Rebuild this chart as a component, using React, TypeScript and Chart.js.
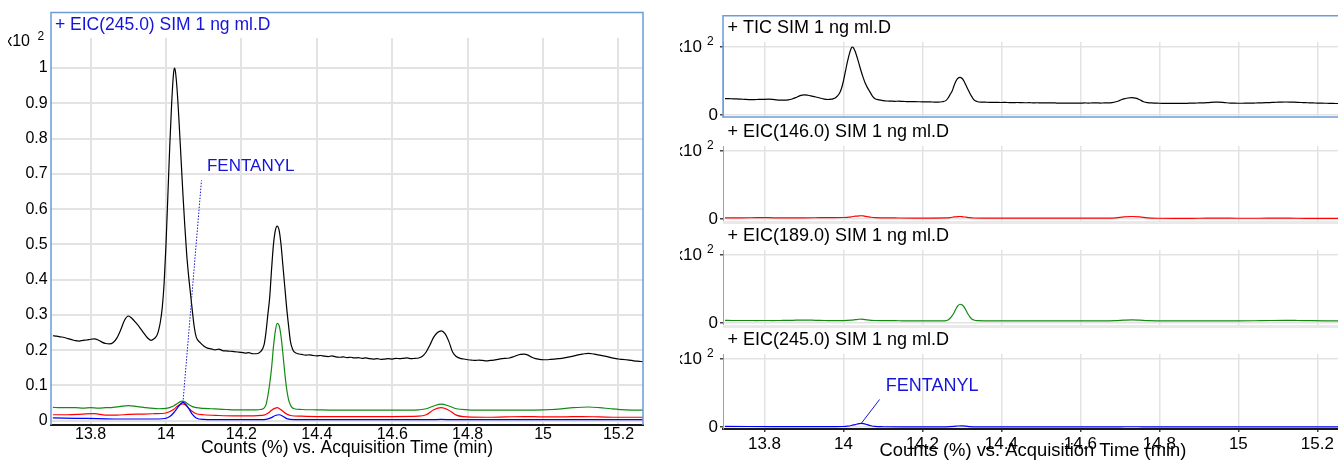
import React, { useEffect, useRef } from "react";
import { Chart, registerables } from "chart.js";

Chart.register(...registerables);

const FONT = '"Liberation Sans", Arial, Helvetica, sans-serif';
const FRAME_BLUE = "#6e9bd8";
const GRID = "#e3e3e3";
const INK = "#000000";
const TIC_COLOR = "#000000";
const EIC146_COLOR = "#ff0000";
const EIC189_COLOR = "#138a13";
const EIC245_COLOR = "#0000ff";
const LABEL_BLUE = "#1414dc";

// Acquisition time window (min)
const TIME_MIN = 13.695;
const TIME_MAX = 15.265;
const TIME_TICKS = [13.8, 14.0, 14.2, 14.4, 14.6, 14.8, 15.0, 15.2];
const OVERLAY_Y_TICKS = [0, 0.1, 0.2, 0.3, 0.4, 0.5, 0.6, 0.7, 0.8, 0.9, 1.0];
const PANEL_Y_TICKS = [0, 1];

const OVERLAY_TITLE = "+ EIC(245.0) SIM 1 ng ml.D";
const PANEL_TITLES = [
  "+ TIC SIM 1 ng ml.D",
  "+ EIC(146.0) SIM 1 ng ml.D",
  "+ EIC(189.0) SIM 1 ng ml.D",
  "+ EIC(245.0) SIM 1 ng ml.D",
];
const AXIS_TITLE = "Counts (%) vs. Acquisition Time (min)";
const EXP_BASE = "x10";
const EXP_POWER = "2";
const PEAK_LABEL = "FENTANYL";
const PEAK_TIME = 14.045;

// TIC, counts in units of 10^2 %
const ticTime = [
  13.70, 13.71, 13.72, 13.73, 13.74, 13.75, 13.76, 13.77, 13.78, 13.79,
  13.80, 13.81, 13.82, 13.83, 13.84, 13.85, 13.86, 13.87, 13.88, 13.89,
  13.90, 13.91, 13.92, 13.93, 13.94, 13.95, 13.96, 13.97, 13.975, 13.98,
  13.985, 13.99, 13.995, 14.00, 14.005, 14.01, 14.015, 14.02, 14.0225, 14.025,
  14.03, 14.035, 14.04, 14.045, 14.05, 14.055, 14.06, 14.065, 14.07, 14.075,
  14.08, 14.09, 14.10, 14.11, 14.12, 14.13, 14.14, 14.15, 14.16, 14.17,
  14.18, 14.19, 14.20, 14.21, 14.22, 14.23, 14.24, 14.25, 14.26, 14.265,
  14.27, 14.275, 14.28, 14.285, 14.29, 14.295, 14.30, 14.305, 14.31, 14.315,
  14.32, 14.325, 14.33, 14.335, 14.34, 14.35, 14.36, 14.37, 14.38, 14.39,
  14.40, 14.41, 14.42, 14.43, 14.44, 14.45, 14.46, 14.47, 14.48, 14.49,
  14.50, 14.51, 14.52, 14.53, 14.54, 14.55, 14.56, 14.57, 14.58, 14.59,
  14.60, 14.61, 14.62, 14.63, 14.64, 14.65, 14.66, 14.67, 14.68, 14.69,
  14.70, 14.71, 14.72, 14.73, 14.74, 14.75, 14.76, 14.77, 14.78, 14.79,
  14.80, 14.81, 14.82, 14.83, 14.84, 14.85, 14.86, 14.87, 14.88, 14.89,
  14.90, 14.91, 14.92, 14.93, 14.94, 14.95, 14.96, 14.97, 14.98, 14.99,
  15.00, 15.01, 15.02, 15.03, 15.04, 15.05, 15.06, 15.07, 15.08, 15.09,
  15.10, 15.11, 15.12, 15.13, 15.14, 15.15, 15.16, 15.17, 15.18, 15.19,
  15.20, 15.21, 15.22, 15.23, 15.24, 15.25, 15.26, 15.27,
];
const ticCounts = [
  0.241, 0.240, 0.238, 0.236, 0.233, 0.230, 0.227, 0.226, 0.228, 0.229,
  0.231, 0.232, 0.229, 0.223, 0.219, 0.218, 0.222, 0.235, 0.258, 0.285,
  0.297, 0.290, 0.278, 0.265, 0.250, 0.236, 0.228, 0.234, 0.240, 0.255,
  0.280, 0.320, 0.390, 0.500, 0.640, 0.780, 0.900, 0.985, 1.000, 0.990,
  0.930, 0.840, 0.740, 0.640, 0.550, 0.470, 0.410, 0.360, 0.310, 0.265,
  0.238, 0.222, 0.212, 0.206, 0.204, 0.201, 0.203, 0.199, 0.198, 0.197,
  0.196, 0.195, 0.194, 0.192, 0.193, 0.190, 0.190, 0.195, 0.215, 0.250,
  0.300, 0.350, 0.430, 0.500, 0.540, 0.552, 0.540, 0.500, 0.440, 0.380,
  0.320, 0.270, 0.225, 0.205, 0.195, 0.190, 0.188, 0.186, 0.187, 0.185,
  0.184, 0.185, 0.183, 0.182, 0.184, 0.181, 0.180, 0.181, 0.179, 0.180,
  0.178, 0.179, 0.177, 0.178, 0.176, 0.175, 0.176, 0.174, 0.175, 0.176,
  0.175, 0.177, 0.176, 0.177, 0.178, 0.176, 0.177, 0.178, 0.183, 0.195,
  0.215, 0.237, 0.250, 0.255, 0.247, 0.225, 0.195, 0.182, 0.177, 0.175,
  0.173, 0.172, 0.171, 0.172, 0.171, 0.170, 0.171, 0.172, 0.174, 0.176,
  0.177, 0.178, 0.181, 0.185, 0.188, 0.189, 0.186, 0.180, 0.176, 0.174,
  0.173, 0.173, 0.174, 0.175, 0.176, 0.177, 0.179, 0.181, 0.183, 0.186,
  0.188, 0.190, 0.191, 0.190, 0.188, 0.186, 0.184, 0.182, 0.179, 0.177,
  0.175, 0.174, 0.173, 0.172, 0.170, 0.169, 0.168, 0.167,
];

// EIC m/z 146
const eic146Time = [
  13.70, 13.74, 13.78, 13.81, 13.84, 13.87, 13.90, 13.94, 13.97, 14.00,
  14.02, 14.03, 14.04, 14.045, 14.05, 14.06, 14.07, 14.08, 14.10, 14.14,
  14.18, 14.22, 14.26, 14.27, 14.28, 14.29, 14.295, 14.30, 14.31, 14.32,
  14.33, 14.36, 14.40, 14.50, 14.60, 14.67, 14.69, 14.71, 14.73, 14.75,
  14.77, 14.80, 14.85, 14.90, 14.95, 15.00, 15.05, 15.10, 15.15, 15.20,
  15.27,
];
const eic146Counts = [
  0.017, 0.017, 0.019, 0.020, 0.016, 0.016, 0.018, 0.019, 0.020, 0.022,
  0.032, 0.041, 0.047, 0.048, 0.046, 0.036, 0.026, 0.020, 0.017, 0.015,
  0.014, 0.014, 0.016, 0.021, 0.030, 0.036, 0.037, 0.035, 0.027, 0.019,
  0.015, 0.013, 0.012, 0.012, 0.012, 0.013, 0.017, 0.031, 0.037, 0.030,
  0.016, 0.011, 0.010, 0.011, 0.012, 0.011, 0.011, 0.012, 0.011, 0.010,
  0.010,
];

// EIC m/z 189
const eic189Time = [
  13.70, 13.72, 13.74, 13.76, 13.78, 13.80, 13.82, 13.84, 13.86, 13.88,
  13.90, 13.92, 13.94, 13.96, 13.98, 14.00, 14.02, 14.03, 14.04, 14.045,
  14.05, 14.06, 14.07, 14.08, 14.10, 14.12, 14.14, 14.16, 14.18, 14.20,
  14.22, 14.24, 14.25, 14.26, 14.265, 14.27, 14.275, 14.28, 14.285, 14.29,
  14.295, 14.30, 14.305, 14.31, 14.315, 14.32, 14.325, 14.33, 14.335, 14.34,
  14.36, 14.40, 14.45, 14.50, 14.55, 14.60, 14.65, 14.67, 14.69, 14.71,
  14.73, 14.75, 14.77, 14.80, 14.85, 14.90, 14.95, 15.00, 15.04, 15.08,
  15.12, 15.15, 15.18, 15.22, 15.27,
];
const eic189Counts = [
  0.038, 0.037, 0.037, 0.037, 0.036, 0.037, 0.036, 0.037, 0.038, 0.041,
  0.043, 0.041, 0.038, 0.036, 0.034, 0.035, 0.042, 0.049, 0.055, 0.056,
  0.054, 0.046, 0.040, 0.037, 0.035, 0.034, 0.033, 0.032, 0.031, 0.031,
  0.031, 0.031, 0.032, 0.036, 0.045, 0.070, 0.105, 0.150, 0.210, 0.255,
  0.276, 0.270, 0.240, 0.190, 0.135, 0.090, 0.060, 0.045, 0.037, 0.034,
  0.032, 0.031, 0.030, 0.030, 0.030, 0.030, 0.030, 0.031, 0.034, 0.042,
  0.047, 0.042, 0.034, 0.031, 0.030, 0.030, 0.030, 0.031, 0.033, 0.037,
  0.039, 0.037, 0.034, 0.031, 0.030,
];

// EIC m/z 245
const eic245Time = [
  13.70, 13.76, 13.82, 13.88, 13.94, 13.98, 14.00, 14.01, 14.02, 14.03,
  14.04, 14.045, 14.05, 14.06, 14.07, 14.08, 14.10, 14.15, 14.20, 14.26,
  14.28, 14.29, 14.30, 14.31, 14.32, 14.34, 14.40, 14.50, 14.60, 14.70,
  14.73, 14.76, 14.90, 15.00, 15.27,
];
const eic245Counts = [
  0.008, 0.007, 0.006, 0.005, 0.005, 0.005, 0.007, 0.012, 0.022, 0.036,
  0.049, 0.052, 0.049, 0.035, 0.018, 0.008, 0.004, 0.003, 0.003, 0.003,
  0.009, 0.015, 0.017, 0.013, 0.006, 0.003, 0.003, 0.003, 0.003, 0.003,
  0.004, 0.003, 0.003, 0.003, 0.003,
];

const toPoints = (t: number[], v: number[]) => t.map((x, i) => ({ x, y: v[i] }));
const fmtTick = (v: any) => String(Number(Number(v).toFixed(1)));
const peakValue = eic245Counts[eic245Time.indexOf(PEAK_TIME)];

const line = (label: string, t: number[], v: number[], color: string) => ({
  label,
  data: toPoints(t, v),
  borderColor: color,
  borderWidth: 1.2,
  pointRadius: 0,
  fill: false,
  cubicInterpolationMode: "monotone",
});

function drawExponent(ctx: any, y: number, baseSize: number, powX: number) {
  ctx.fillStyle = INK;
  ctx.textBaseline = "middle";
  ctx.textAlign = "right";
  ctx.font = `${baseSize}px ${FONT}`;
  ctx.fillText(EXP_BASE, 22, y);
  ctx.textAlign = "left";
  ctx.font = `12px ${FONT}`;
  ctx.fillText(EXP_POWER, powX, y - 5);
}

// Frame, title, exponent and peak label of the overlay plot
const overlayDecor = {
  id: "overlayDecor",
  afterDraw(chart: any) {
    const { ctx, chartArea: a, scales } = chart;
    ctx.save();
    ctx.strokeStyle = FRAME_BLUE;
    ctx.lineWidth = 1.5;
    ctx.beginPath();
    ctx.moveTo(a.left, a.bottom);
    ctx.lineTo(a.left, 12.5);
    ctx.lineTo(a.right, 12.5);
    ctx.lineTo(a.right, a.bottom);
    ctx.stroke();

    ctx.fillStyle = LABEL_BLUE;
    ctx.font = `17.5px ${FONT}`;
    ctx.textBaseline = "middle";
    ctx.textAlign = "left";
    ctx.fillText(OVERLAY_TITLE, a.left + 4, 25);

    drawExponent(ctx, 42, 16, 29.5);

    const px = scales.x.getPixelForValue(PEAK_TIME);
    const py = scales.y.getPixelForValue(peakValue);
    ctx.strokeStyle = LABEL_BLUE;
    ctx.lineWidth = 1;
    ctx.setLineDash([1.5, 1.5]);
    ctx.beginPath();
    ctx.moveTo(px, py);
    ctx.lineTo(px + 18.5, py - 222);
    ctx.stroke();
    ctx.setLineDash([]);
    ctx.fillStyle = LABEL_BLUE;
    ctx.font = `17px ${FONT}`;
    ctx.fillText(PEAK_LABEL, px + 24, py - 236);
    ctx.restore();
  },
};

function overlayConfig(): any {
  return {
    type: "line",
    data: {
      datasets: [
        line("EIC(245.0)", eic245Time, eic245Counts, EIC245_COLOR),
        line("EIC(146.0)", eic146Time, eic146Counts, EIC146_COLOR),
        line("EIC(189.0)", eic189Time, eic189Counts, EIC189_COLOR),
        line("TIC", ticTime, ticCounts, TIC_COLOR),
      ],
    },
    options: {
      animation: false,
      responsive: false,
      devicePixelRatio: 1,
      layout: { padding: { top: 38, right: 17, left: 0, bottom: 0 } },
      plugins: { legend: { display: false }, tooltip: { enabled: false } },
      scales: {
        x: {
          type: "linear",
          min: TIME_MIN,
          max: TIME_MAX,
          border: { display: true, color: "#1a1a1a", width: 2 },
          grid: { color: GRID, lineWidth: 2, drawTicks: false },
          afterBuildTicks: (s: any) => { s.ticks = TIME_TICKS.map((value) => ({ value })); },
          ticks: { autoSkip: false, maxRotation: 0, padding: 0, color: INK, font: { family: FONT, size: 16 }, callback: fmtTick },
          title: { display: true, text: AXIS_TITLE, color: INK, font: { family: FONT, size: 17.5, lineHeight: 1 }, padding: { top: 0, bottom: 3 } },
          afterFit: (s: any) => { s.height = 35; },
        },
        y: {
          type: "linear",
          min: -0.012,
          max: 1.085,
          border: { display: false },
          grid: { color: GRID, lineWidth: 2, drawTicks: false },
          afterBuildTicks: (s: any) => { s.ticks = OVERLAY_Y_TICKS.map((value) => ({ value })); },
          ticks: { padding: 3.3, color: INK, font: { family: FONT, size: 16 }, callback: fmtTick },
          afterFit: (s: any) => { s.width = 43; s.paddingTop = 0; s.paddingBottom = 0; },
        },
      },
    },
    plugins: [overlayDecor],
  };
}

const PANEL_SERIES = [
  { t: ticTime, v: ticCounts, color: TIC_COLOR },
  { t: eic146Time, v: eic146Counts, color: EIC146_COLOR },
  { t: eic189Time, v: eic189Counts, color: EIC189_COLOR },
  { t: eic245Time, v: eic245Counts, color: EIC245_COLOR },
];

// Plot area of each stacked panel spans local y 27..102
const PANEL_PLOT_BOTTOM = 102;

function panelDecor(index: number) {
  return {
    id: "panelDecor" + index,
    afterDraw(chart: any) {
      const { ctx, chartArea: a, scales } = chart;
      ctx.save();
      if (index === 0) {
        ctx.strokeStyle = FRAME_BLUE;
        ctx.lineWidth = 1.5;
        ctx.strokeRect(a.left, 0.75, a.right - a.left, a.bottom - 0.75);
      } else if (index < 3) {
        ctx.fillStyle = "#e9e9e9";
        ctx.fillRect(a.left, a.bottom, a.right - a.left, 3);
      }
      ctx.fillStyle = INK;
      ctx.font = `18px ${FONT}`;
      ctx.textBaseline = "middle";
      ctx.textAlign = "left";
      ctx.fillText(PANEL_TITLES[index], a.left + 4.5, 13.5);

      drawExponent(ctx, scales.y.getPixelForValue(1), 17, 27);

      if (index === 3) {
        const px = scales.x.getPixelForValue(PEAK_TIME);
        const py = scales.y.getPixelForValue(peakValue);
        ctx.strokeStyle = LABEL_BLUE;
        ctx.lineWidth = 1;
        ctx.beginPath();
        ctx.moveTo(px, py);
        ctx.lineTo(px + 18.4, py - 24);
        ctx.stroke();
        ctx.fillStyle = LABEL_BLUE;
        ctx.font = `18px ${FONT}`;
        ctx.fillText(PEAK_LABEL, px + 24.5, py - 37.5);
      }
      ctx.restore();
    },
  };
}

function panelConfig(index: number, height: number): any {
  const s = PANEL_SERIES[index];
  const bottom = index === 3;
  return {
    type: "line",
    data: { datasets: [line(PANEL_TITLES[index], s.t, s.v, s.color)] },
    options: {
      animation: false,
      responsive: false,
      devicePixelRatio: 1,
      layout: { padding: { top: 27, right: 17, left: 0, bottom: 0 } },
      plugins: { legend: { display: false }, tooltip: { enabled: false } },
      scales: {
        x: {
          type: "linear",
          min: TIME_MIN,
          max: TIME_MAX,
          border: bottom ? { display: true, color: "#1a1a1a", width: 2 } : { display: false },
          grid: { color: GRID, lineWidth: 1.5, drawTicks: bottom, tickLength: 3, tickColor: "#444" },
          afterBuildTicks: (sc: any) => { sc.ticks = TIME_TICKS.map((value) => ({ value })); },
          ticks: { display: bottom, autoSkip: false, maxRotation: 0, padding: 2, color: INK, font: { family: FONT, size: 17 }, callback: fmtTick },
          title: { display: bottom, text: AXIS_TITLE, color: INK, font: { family: FONT, size: 18.4, lineHeight: 1 }, padding: { top: 0, bottom: 0 } },
          afterFit: (sc: any) => { sc.height = height - PANEL_PLOT_BOTTOM; sc.paddingLeft = 0; sc.paddingRight = 0; },
        },
        y: {
          type: "linear",
          min: -0.0294,
          max: 1.0735,
          border: { display: true, color: "#a0a0a0", width: 1 },
          grid: { color: GRID, lineWidth: 1.5, drawTicks: true, tickLength: 3, tickColor: "#444" },
          afterBuildTicks: (sc: any) => { sc.ticks = PANEL_Y_TICKS.map((value) => ({ value })); },
          ticks: { padding: 2, color: INK, font: { family: FONT, size: 17 }, callback: (v: any) => (Number(v) === 0 ? "0" : "") },
          afterFit: (sc: any) => { sc.width = 43; sc.paddingTop = 0; sc.paddingBottom = 0; },
        },
      },
    },
    plugins: [panelDecor(index)],
  };
}

function ChartCanvas({ left, top, width, height, build }: { left: number; top: number; width: number; height: number; build: () => any }) {
  const ref = useRef<HTMLCanvasElement>(null);
  useEffect(() => {
    const chart = new Chart(ref.current as HTMLCanvasElement, build());
    return () => chart.destroy();
  }, []);
  return (
    <canvas
      ref={ref}
      width={width}
      height={height}
      style={{ position: "absolute", left, top, width, height, display: "block" }}
    />
  );
}

export default function App() {
  // Stacked panels overlap slightly so each zero label can spill past its plot
  return (
    <div style={{ position: "absolute", left: 0, top: 0, width: 1338, height: 460, overflow: "hidden", background: "#ffffff" }}>
      <ChartCanvas left={8} top={0} width={652} height={460} build={overlayConfig} />
      <ChartCanvas left={680} top={15} width={680} height={114} build={() => panelConfig(0, 114)} />
      <ChartCanvas left={680} top={119} width={680} height={114} build={() => panelConfig(1, 114)} />
      <ChartCanvas left={680} top={223} width={680} height={114} build={() => panelConfig(2, 114)} />
      <ChartCanvas left={680} top={327} width={680} height={133} build={() => panelConfig(3, 133)} />
    </div>
  );
}
